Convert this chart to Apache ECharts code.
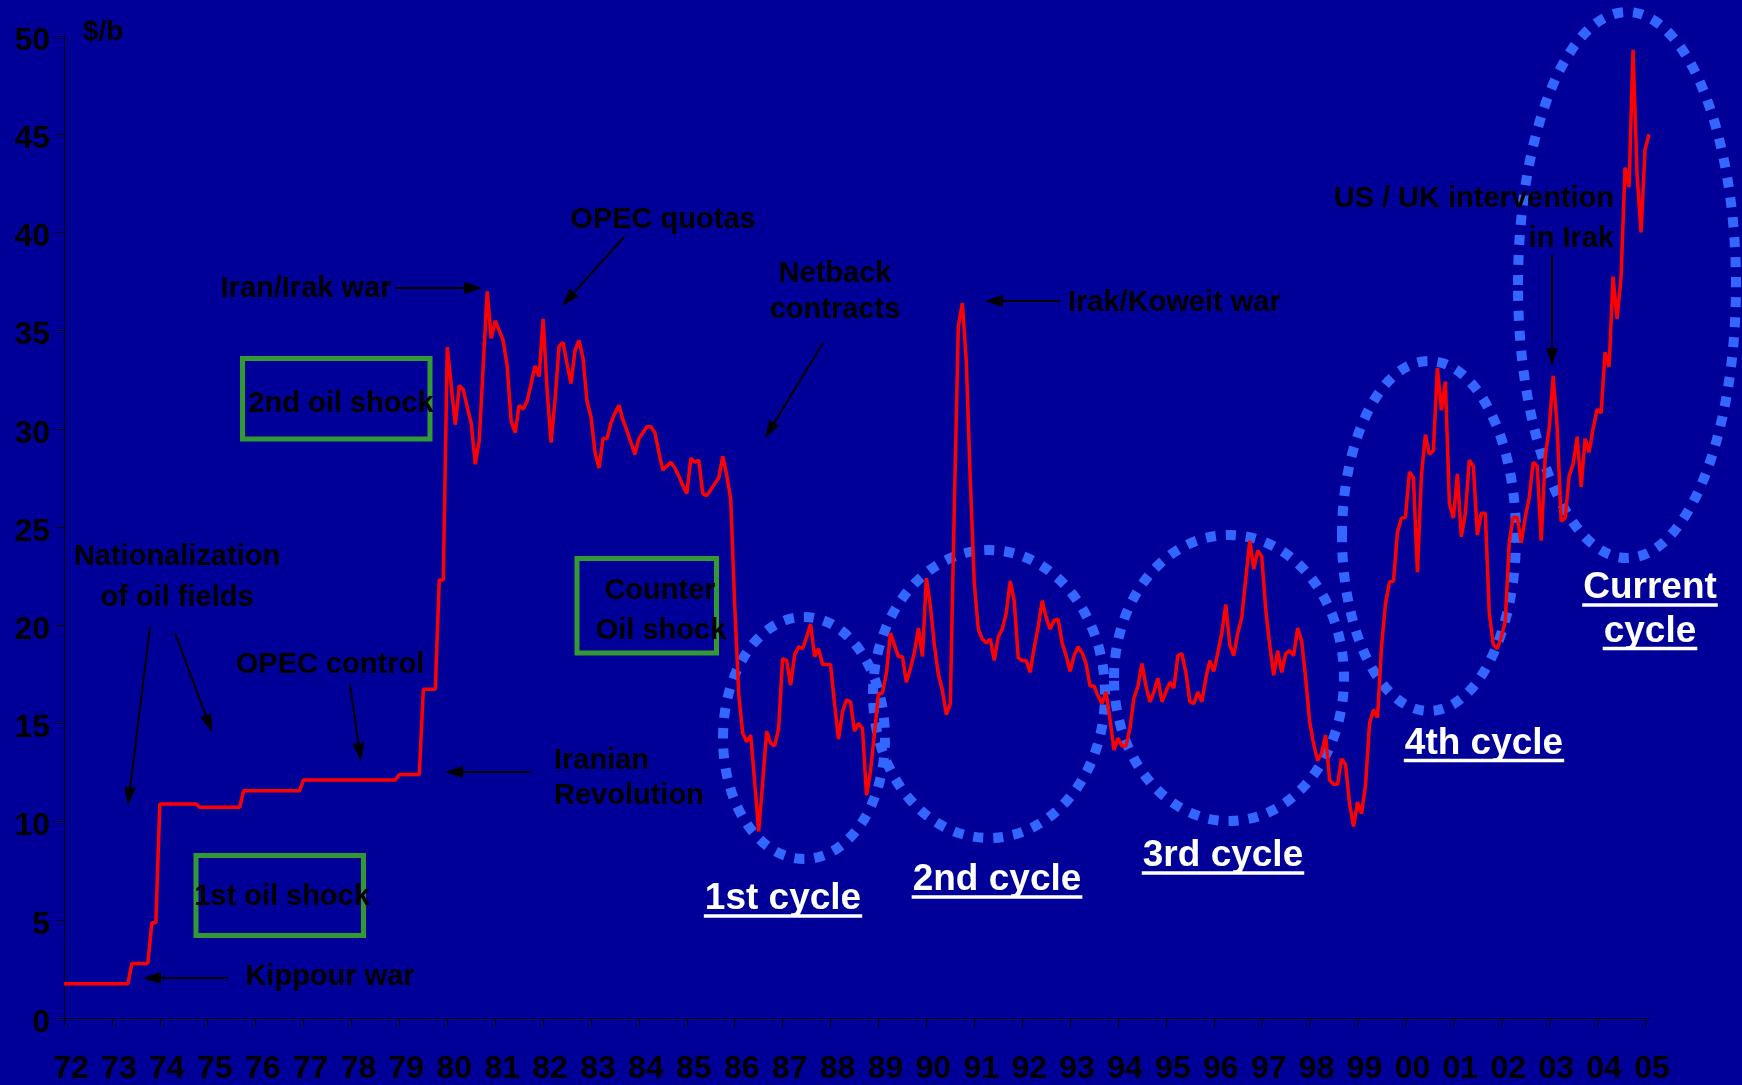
<!DOCTYPE html>
<html>
<head>
<meta charset="utf-8">
<title>Oil price cycles 1972-2005</title>
<script src="https://cdn.jsdelivr.net/npm/echarts@6/dist/echarts.min.js"></script>
<style>
  html, body { margin: 0; padding: 0; background: #000099; }
  #chart { width: 1742px; height: 1085px; }
</style>
</head>
<body>
<div id="chart"></div>
<script>
// Monthly crude price in $/b, first value = January 1972
const startYear = 1972;

const prices1972_1979 = [
  1.75, 1.75, 1.75, 1.75, 1.75, 1.75, 1.75, 1.75, 1.75, 1.75, 1.75, 1.75,
  1.75, 1.75, 1.75, 1.75, 1.75, 2.78, 2.78, 2.78, 2.78, 2.78, 4.85, 4.85,
  10.9, 10.9, 10.9, 10.9, 10.9, 10.9, 10.9, 10.9, 10.9, 10.9, 10.73, 10.73,
  10.73, 10.73, 10.73, 10.73, 10.73, 10.73, 10.73, 10.73, 10.73, 11.57, 11.57, 11.57,
  11.57, 11.57, 11.57, 11.57, 11.57, 11.57, 11.57, 11.57, 11.57, 11.57, 11.57, 11.57,
  12.12, 12.12, 12.12, 12.12, 12.12, 12.12, 12.12, 12.12, 12.12, 12.12, 12.12, 12.12,
  12.12, 12.12, 12.12, 12.12, 12.12, 12.12, 12.12, 12.12, 12.12, 12.12, 12.12, 12.12,
  12.4, 12.4, 12.4, 12.4, 12.4, 12.4, 16.74, 16.74, 16.74, 16.74, 22.3, 22.3
];

const prices1980_1989 = [
  34.15, 32.2, 30.2, 32.2, 32.0, 31.1, 30.3, 28.2, 29.4, 33.2, 37.0, 34.6,
  35.5, 35.0, 34.5, 33.2, 30.4, 29.8, 31.2, 31.0, 31.4, 32.3, 33.2, 32.65,
  35.6, 32.0, 29.3, 31.5, 34.2, 34.4, 33.3, 32.3, 34.0, 34.5, 33.6, 31.4,
  30.6, 28.8, 28.0, 29.5, 29.5, 30.3, 30.8, 31.2, 30.45, 29.9, 29.3, 28.7,
  29.5, 29.8, 30.1, 30.1, 29.8, 28.8, 27.9, 28.1, 28.3, 28.0, 27.6, 27.1,
  26.7, 28.5, 28.3, 28.4, 26.7, 26.6, 26.9, 27.2, 27.5, 28.6, 27.65, 26.4,
  21.0, 16.5, 14.5, 14.07, 14.4, 12.0, 9.5, 12.0, 14.6, 14.0, 13.85, 14.75,
  18.3, 18.2, 16.95, 18.5, 18.9, 18.8, 19.4, 20.06, 18.4, 18.8, 18.0, 18.0,
  18.0, 16.0, 14.2, 15.6, 16.2, 16.1, 14.6, 15.0, 14.75, 11.35, 12.55, 14.5,
  16.5, 16.55, 17.55, 19.6, 19.0, 18.4, 18.4, 17.1, 17.8, 18.6, 19.85, 18.4
];

const prices1990_1999 = [
  22.4, 21.0, 19.0, 17.5, 16.7, 15.45, 16.0, 26.0, 35.2, 36.4, 33.45, 27.4,
  22.15, 19.8, 19.3, 19.1, 19.3, 18.2, 19.4, 19.8, 20.6, 22.25, 21.25, 18.35,
  18.2, 18.2, 17.6, 18.85, 19.9, 21.25, 20.4, 19.8, 20.25, 20.3, 19.1, 18.45,
  17.65, 18.45, 18.9, 18.6, 18.05, 16.9, 16.9, 16.4, 16.0, 16.6, 15.2, 13.65,
  14.25, 13.85, 13.85, 14.75, 16.3, 16.9, 18.05, 16.9, 16.1, 16.6, 17.3, 16.1,
  16.6, 17.1, 16.8, 18.45, 18.55, 17.6, 16.1, 16.0, 16.6, 16.1, 17.3, 18.2,
  17.65, 18.6, 19.6, 21.05, 19.0, 18.45, 19.6, 20.4, 22.35, 24.3, 22.85, 23.8,
  23.5, 20.8, 19.0, 17.45, 18.7, 17.6, 18.55, 18.7, 18.45, 19.85, 19.2, 17.3,
  15.1, 13.95, 13.1, 13.5, 14.4, 12.1, 11.9, 11.9, 13.2, 12.9, 10.9, 9.75,
  11.0, 10.4, 11.85, 15.0, 15.7, 15.3, 18.9, 21.1, 22.2, 22.25, 24.75, 25.45
];

const prices2000_2005 = [
  25.5, 27.8, 27.5, 22.7, 27.6, 29.7, 28.7, 28.9, 33.1, 30.95, 32.4, 26.2,
  25.45, 27.7, 24.5, 25.7, 28.4, 28.1, 24.6, 25.7, 25.7, 20.6, 19.0, 18.8,
  19.4, 20.2, 24.25, 25.5, 25.5, 24.2, 25.5, 26.5, 28.3, 28.1, 24.3, 28.6,
  30.0, 32.7, 30.1, 25.3, 25.45, 27.6, 28.2, 29.6, 27.05, 29.5, 28.8, 30.0,
  31.0, 30.8, 33.9, 33.15, 37.75, 35.6, 37.7, 43.3, 42.3, 49.3, 43.0, 40.0,
  44.2, 45.0
];

// Year ticks on the time axis and their two-digit labels
const yearTicks = [1972, 1973, 1974, 1975, 1976, 1977, 1978, 1979, 1980, 1981, 1982, 1983,
  1984, 1985, 1986, 1987, 1988, 1989, 1990, 1991, 1992, 1993, 1994, 1995, 1996, 1997,
  1998, 1999, 2000, 2001, 2002, 2003, 2004, 2005];
const yearLabels = ['72', '73', '74', '75', '76', '77', '78', '79', '80', '81', '82', '83',
  '84', '85', '86', '87', '88', '89', '90', '91', '92', '93', '94', '95', '96', '97',
  '98', '99', '00', '01', '02', '03', '04', '05'];

const monthly = [].concat(prices1972_1979, prices1980_1989, prices1990_1999, prices2000_2005);
const seriesData = monthly.map((v, i) => [startYear + i / 12, v]);
const lastTime = startYear + (monthly.length - 1) / 12;

// ---------- annotation helpers ----------
const FONT = '"Liberation Sans", Arial, Helvetica, sans-serif';
const measureCtx = document.createElement('canvas').getContext('2d');
function textWidth(str, font) { measureCtx.font = font; return measureCtx.measureText(str).width; }

function note(text, x, y, align, size, color) {
  return {
    type: 'text', x: x, y: y, z: 10,
    style: {
      text: text, fill: color || '#000', font: 'bold ' + (size || 29) + 'px ' + FONT,
      align: align || 'center', verticalAlign: 'middle',
      textAlign: align || 'center', textVerticalAlign: 'middle'
    }
  };
}

function arrow(x1, y1, x2, y2) {
  const a = Math.atan2(y2 - y1, x2 - x1);
  const len = 18, half = 6;
  const bx = x2 - len * Math.cos(a), by = y2 - len * Math.sin(a);
  const px = -Math.sin(a) * half, py = Math.cos(a) * half;
  return [
    { type: 'line', z: 6, shape: { x1: x1, y1: y1, x2: bx, y2: by }, style: { stroke: '#000', lineWidth: 2 } },
    { type: 'polygon', z: 6, shape: { points: [[x2, y2], [bx + px, by + py], [bx - px, by - py]] }, style: { fill: '#000' } }
  ];
}

function box(x, y, w, h) {
  return { type: 'rect', z: 4, shape: { x: x, y: y, width: w, height: h },
    style: { fill: 'none', stroke: '#339933', lineWidth: 5 } };
}

function cycleRing(cx, cy, rx, ry) {
  return { type: 'ellipse', z: 1, shape: { cx: cx, cy: cy, rx: rx, ry: ry },
    style: { fill: 'none', stroke: '#3366FF', lineWidth: 10, lineDash: [10, 10] } };
}

function cycleLabel(text, cx, cy) {
  const font = 'bold 37px ' + FONT;
  const w = textWidth(text, font);
  return [
    note(text, cx, cy, 'center', 37, '#FFFFFF'),
    { type: 'rect', z: 10, shape: { x: cx - w / 2 - 1, y: cy + 15.25, width: w + 2, height: 3.5 }, style: { fill: '#FFFFFF' } }
  ];
}

const graphics = [].concat(
  // cycles
  cycleRing(804, 738, 81, 121),
  cycleRing(989, 694, 116, 144),
  cycleRing(1229, 678, 115, 143),
  cycleRing(1429, 536, 87, 175),
  cycleRing(1627, 285, 109, 273),
  cycleLabel('1st cycle', 783, 899),
  cycleLabel('2nd cycle', 997, 880),
  cycleLabel('3rd cycle', 1223, 856),
  cycleLabel('4th cycle', 1484, 743.5),
  cycleLabel('Current', 1650, 588),
  cycleLabel('cycle', 1650, 631.5),
  // framed shock labels
  box(242.5, 358.5, 187.5, 80.5),
  note('2nd oil shock', 341, 404),
  box(196, 855.5, 167.5, 80),
  note('1st oil shock', 282, 897),
  box(577, 558.5, 139.5, 94.5),
  note('Counter', 660, 591),
  note('Oil shock', 661, 631),
  // events
  note('$/b', 83, 32, 'left', 28),
  note('Nationalization', 177, 557),
  note('of oil fields', 177, 598),
  arrow(150, 627, 128, 805),
  arrow(175, 633, 212, 732),
  note('OPEC control', 330, 665),
  arrow(350, 685, 361, 761),
  note('Kippour war', 330, 977),
  arrow(228, 978, 143, 978),
  note('Iranian', 554, 761, 'left'),
  note('Revolution', 554, 796, 'left'),
  arrow(531, 772, 445, 772),
  note('Iran/Irak war', 306, 289),
  arrow(395, 288, 482, 288),
  note('OPEC quotas', 663, 220),
  arrow(624, 237, 562, 306),
  note('Netback', 835, 274),
  note('contracts', 835, 310),
  arrow(823, 343, 765, 438),
  note('Irak/Koweit war', 1068, 303, 'left'),
  arrow(1060, 301, 985, 301),
  note('US / UK intervention', 1614, 199, 'right'),
  note('in Irak', 1614, 239, 'right'),
  arrow(1552, 255, 1552, 366)
);

const chart = echarts.init(document.getElementById('chart'), null, { renderer: 'canvas' });
chart.setOption({
  animation: false,
  backgroundColor: '#000099',
  grid: { left: 64, right: 93, top: 36, bottom: 67, containLabel: false, outerBoundsMode: 'none' },
  xAxis: {
    type: 'value',
    min: startYear,
    max: lastTime,
    splitLine: { show: false },
    axisLine: { show: true, lineStyle: { color: '#000', width: 1 } },
    axisTick: { show: true, length: 9, lineStyle: { color: '#000', width: 1 }, customValues: yearTicks },
    axisLabel: {
      customValues: yearTicks,
      formatter: v => yearLabels[yearTicks.indexOf(Math.round(v))],
      color: '#000', fontWeight: 'bold', fontSize: 32, fontFamily: FONT,
      margin: 35, padding: [0, 0, 0, 14]
    }
  },
  yAxis: {
    type: 'value',
    min: 0, max: 50, interval: 5,
    splitLine: { show: false },
    axisLine: { show: true, lineStyle: { color: '#000', width: 1 } },
    axisTick: { show: true, length: 8, lineStyle: { color: '#000', width: 1 } },
    axisLabel: {
      color: '#000', fontWeight: 'bold', fontSize: 32, fontFamily: FONT,
      margin: 14, verticalAlign: 'top', lineHeight: 10
    }
  },
  series: [{
    type: 'line',
    data: seriesData,
    showSymbol: false,
    symbol: 'none',
    z: 3,
    lineStyle: { color: '#FF0000', width: 3.5 },
    itemStyle: { color: '#FF0000' }
  }],
  graphic: { elements: graphics }
});
</script>
</body>
</html>
